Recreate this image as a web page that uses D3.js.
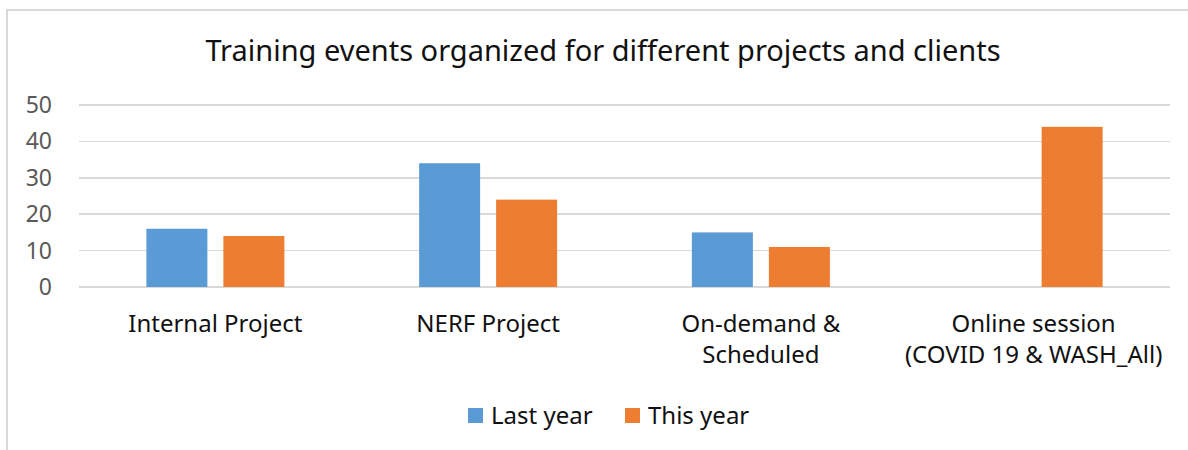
<!DOCTYPE html>
<html>
<head>
<meta charset="utf-8">
<title>training-events</title>
<script src="https://cdn.jsdelivr.net/npm/d3@7"></script>
<style>
  body { margin: 0; background: #fff; }
  svg { display: block; font-family: "Noto Sans", sans-serif; }
  .grid line { stroke: #d9d9d9; stroke-width: 1.5px; shape-rendering: crispEdges; }
  .ytick text { fill: #595959; font-size: 23px; }
  .xlab { fill: #111; font-size: 24px; }
  .title { fill: #111; font-size: 29px; }
  .legend text { fill: #111; font-size: 24px; }
</style>
</head>
<body>
<svg width="1188" height="450"></svg>
<script>
// chart data
var categories = ["Internal Project", "NERF Project", "On-demand &\nScheduled", "Online session\n(COVID 19 & WASH_All)"];
var seriesNames = ["Last year", "This year"];
var lastYear = [16, 34, 15, 0];
var thisYear = [14, 24, 11, 44];
var yTicks = [0, 10, 20, 30, 40, 50];
var colors = ["#5b9bd5", "#ed7d31"];

var svg = d3.select("svg");

// outer frame of the chart area (runs off the right and bottom of the picture)
svg.append("rect")
  .attr("x", 7).attr("y", 10)
  .attr("width", 1300).attr("height", 600)
  .attr("fill", "none")
  .attr("stroke", "#d9d9d9")
  .attr("stroke-width", 2);

var plotL = 79, plotR = 1170, plotT = 105, plotB = 287;

var x0 = d3.scaleBand().domain(categories).range([plotL, plotR]).padding(0);
var groupW = 138;
var x1 = d3.scaleBand().domain(seriesNames)
  .range([(x0.bandwidth() - groupW) / 2, (x0.bandwidth() + groupW) / 2])
  .paddingInner(16 / 77);
var y = d3.scaleLinear().domain([0, 50]).range([plotB, plotT]);

// gridlines
svg.append("g").attr("class", "grid")
  .selectAll("line").data(yTicks).enter().append("line")
  .attr("x1", plotL).attr("x2", plotR)
  .attr("y1", function(d) { return y(d); })
  .attr("y2", function(d) { return y(d); });

// y tick labels
svg.append("g").attr("class", "ytick")
  .selectAll("text").data(yTicks).enter().append("text")
  .attr("x", 52)
  .attr("y", function(d) { return y(d); })
  .attr("dy", "0.35em")
  .attr("text-anchor", "end")
  .text(function(d) { return d; });

// bars
var rows = categories.map(function(c, i) {
  return { cat: c, vals: [lastYear[i], thisYear[i]] };
});
var groups = svg.append("g").selectAll("g").data(rows).enter().append("g")
  .attr("transform", function(d) { return "translate(" + x0(d.cat) + ",0)"; });
groups.selectAll("rect")
  .data(function(d) {
    return d.vals.map(function(v, j) { return { s: seriesNames[j], v: v, j: j }; })
      .filter(function(e) { return e.v > 0; });
  })
  .enter().append("rect")
  .attr("x", function(d) { return x1(d.s); })
  .attr("width", x1.bandwidth())
  .attr("y", function(d) { return y(d.v); })
  .attr("height", function(d) { return y(0) - y(d.v); })
  .attr("fill", function(d) { return colors[d.j]; });

// category labels
svg.append("g").selectAll("text").data(categories).enter().append("text")
  .attr("class", "xlab")
  .attr("text-anchor", "middle")
  .attr("x", function(d) { return x0(d) + x0.bandwidth() / 2; })
  .attr("y", 332)
  .each(function(d) {
    var t = d3.select(this);
    d.split("\n").forEach(function(line, k) {
      t.append("tspan")
        .attr("x", x0(d) + x0.bandwidth() / 2)
        .attr("dy", k === 0 ? 0 : 31)
        .text(line);
    });
  });

// title
svg.append("text")
  .attr("class", "title")
  .attr("x", 603).attr("y", 61)
  .attr("text-anchor", "middle")
  .text("Training events organized for different projects and clients");

// legend
var legendX = [468, 625];
var lg = svg.append("g").attr("class", "legend")
  .selectAll("g").data(seriesNames).enter().append("g")
  .attr("transform", function(d, i) { return "translate(" + legendX[i] + ",408)"; });
lg.append("rect").attr("width", 15).attr("height", 15)
  .attr("fill", function(d, i) { return colors[i]; });
lg.append("text").attr("x", 23).attr("y", 16).text(function(d) { return d; });
</script>
</body>
</html>
